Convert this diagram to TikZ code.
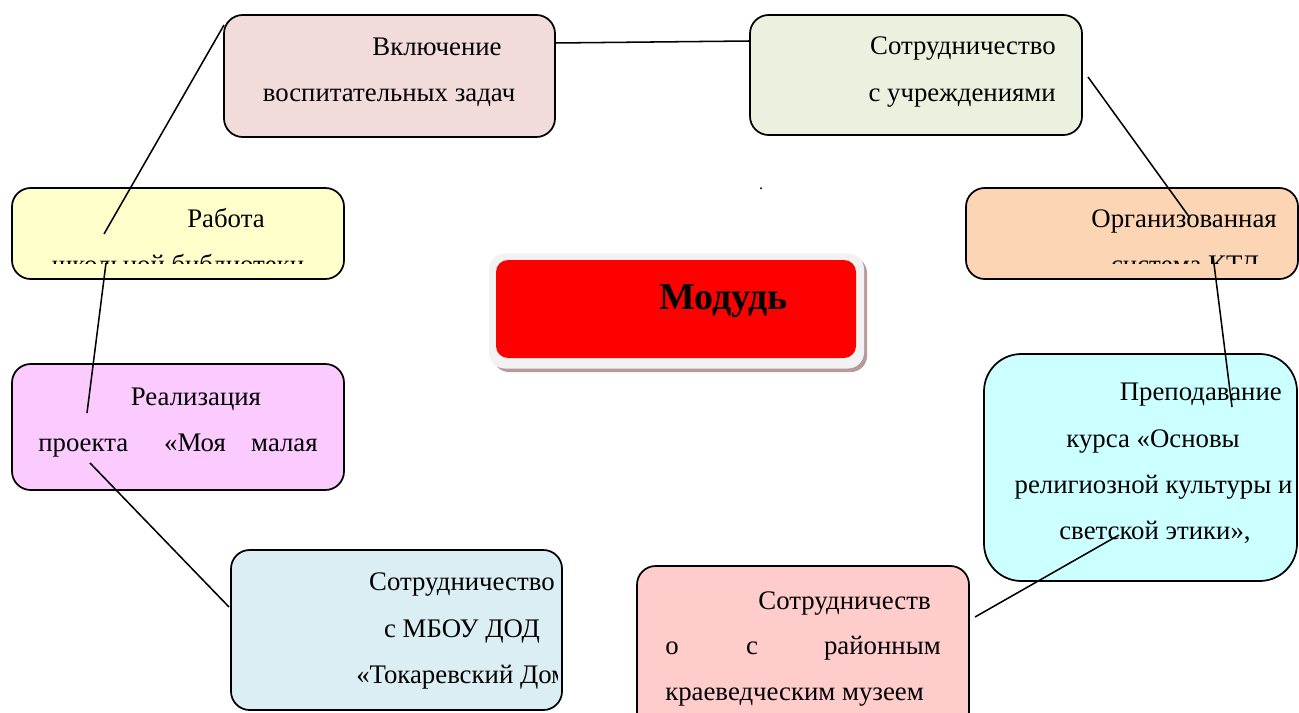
\documentclass[tikz,border=0pt]{standalone}
\usepackage{fontspec}
\setmainfont{Liberation Serif}
\definecolor{cA}{HTML}{F2DCDB}
\definecolor{cB}{HTML}{EBF1DE}
\definecolor{cC}{HTML}{FFFFCC}
\definecolor{cD}{HTML}{FCD5B5}
\definecolor{cE}{HTML}{FBCBFF}
\definecolor{cF}{HTML}{CCFFFF}
\definecolor{cG}{HTML}{DBEEF4}
\definecolor{cH}{HTML}{FFCCCC}
\definecolor{cFrame}{HTML}{F2F2F2}
\definecolor{cShadow}{HTML}{B89A9A}
\begin{document}
\begin{tikzpicture}[x=0.75pt,y=-0.75pt,
  box/.style={draw=black,line width=1.3pt,rounded corners=14pt,inner sep=0pt,outer sep=0pt},
  txt/.style={inner sep=0pt,font=\fontsize{20.1}{24}\selectfont},
  conn/.style={draw=black,line width=1.15pt}]
\clip (0,0) rectangle (1299,713);
\fill[white] (0,0) rectangle (1299,713);

% boxes
\node[box,fill=cA,minimum width=248.25pt,minimum height=91.5pt] (b1) at (389.5,76) {};
\node[box,fill=cB,minimum width=249pt,minimum height=90pt] (b2) at (916,75) {};
\node[box,fill=cC,minimum width=249pt,minimum height=68.25pt] (b3) at (178,233.5) {};
\node[box,fill=cD,minimum width=249pt,minimum height=68.25pt] (b4) at (1132,233.5) {};
\node[box,fill=cE,minimum width=249pt,minimum height=94.5pt] (b6) at (178,427) {};
\node[box,fill=cF,rounded corners=28pt,minimum width=234.75pt,minimum height=170.25pt] (b7) at (1140.5,467.5) {};
\node[box,fill=cG,minimum width=248.25pt,minimum height=120pt] (b8) at (396.5,630) {};
\node[box,fill=cH,minimum width=249pt,minimum height=130.5pt] (b9) at (803,653) {};

% module box
\fill[cShadow,rounded corners=12pt] (493,257) rectangle (867,372);
\node[fill=cFrame,rounded corners=12pt,inner sep=0pt,minimum width=281.25pt,minimum height=86.25pt] (mframe) at (676.5,311) {};
\node[fill=red,rounded corners=9pt,inner sep=0pt,minimum width=270pt,minimum height=73.5pt] (mod) at (676,309) {};
\node[inner sep=0pt,anchor=base,font=\fontsize{28.5}{32}\selectfont\bfseries] (modt) at (723.5,309) {Модудь};

% texts
\node[txt,anchor=base] (t1a) at (437,56) {Включение};
\node[txt,anchor=base] (t1b) at (389,102) {воспитательных задач};

\node[txt,anchor=base east] (t2a) at (1056,55) {Сотрудничество};
\node[txt,anchor=base east] (t2b) at (1056,102) {с учреждениями};

\begin{scope}
\clip (0,150) rectangle (1299,263);
\node[txt,anchor=base] (t3a) at (226,227) {Работа};
\node[txt,anchor=base] (t3b) at (178,273) {школьной библиотеки};
\node[txt,anchor=base east] (t4a) at (1277,228) {Организованная};
\node[txt,anchor=base] (t4b) at (1185,273) {система КТД};
\end{scope}

\begin{scope}
\clip (0,360) rectangle (360,468);
\node[txt,anchor=base] (t6a) at (196,405) {Реализация};
\node[txt,anchor=base west] (t6b) at (38,451) {проекта};
\node[txt,anchor=base] (t6c) at (195,451) {«Моя};
\node[txt,anchor=base east] (t6d) at (318,451) {малая};
\end{scope}

\node[txt,anchor=base east] (t7a) at (1282,400) {Преподавание};
\node[txt,anchor=base] (t7b) at (1153,447) {курса «Основы};
\node[txt,anchor=base] (t7c) at (1153.5,493) {религиозной культуры и};
\node[txt,anchor=base] (t7d) at (1155,539) {светской этики»,};

\node[txt,anchor=base east] (t8a) at (555,590) {Сотрудничество};
\node[txt,anchor=base] (t8b) at (462,637) {с МБОУ ДОД};
\begin{scope}
\clip (231,650) rectangle (557,713);
\node[txt,anchor=base west] (t8c) at (356,683) {«Токаревский Дом};
\end{scope}

\node[txt,anchor=base east] (t9a) at (931,609) {Сотрудничеств};
\node[txt,anchor=base west] (t9b) at (665,654) {о};
\node[txt,anchor=base] (t9c) at (752,654) {с};
\node[txt,anchor=base east] (t9d) at (941,654) {районным};
\node[txt,anchor=base west] (t9e) at (665,700) {краеведческим музеем};

\node[inner sep=0pt,anchor=base,font=\fontsize{12}{14}\selectfont] (dot) at (761,190) {.};

% connectors
\coordinate (c1a) at (555,43); \coordinate (c1b) at (750,41);
\coordinate (c2a) at (1088,77); \coordinate (c2b) at (1190,218);
\coordinate (c3a) at (1213,256); \coordinate (c3b) at (1232,407);
\coordinate (c4a) at (1119,535); \coordinate (c4b) at (975,617);
\coordinate (c5a) at (229,607); \coordinate (c5b) at (90,463);
\coordinate (c6a) at (87,413); \coordinate (c6b) at (106,263);
\coordinate (c7a) at (104,234); \coordinate (c7b) at (224,25);
\draw[conn] (c1a) -- (c1b);
\draw[conn] (c2a) -- (c2b);
\draw[conn] (c3a) -- (c3b);
\draw[conn] (c4a) -- (c4b);
\draw[conn] (c5a) -- (c5b);
\draw[conn] (c6a) -- (c6b);
\draw[conn] (c7a) -- (c7b);
\end{tikzpicture}
\end{document}
